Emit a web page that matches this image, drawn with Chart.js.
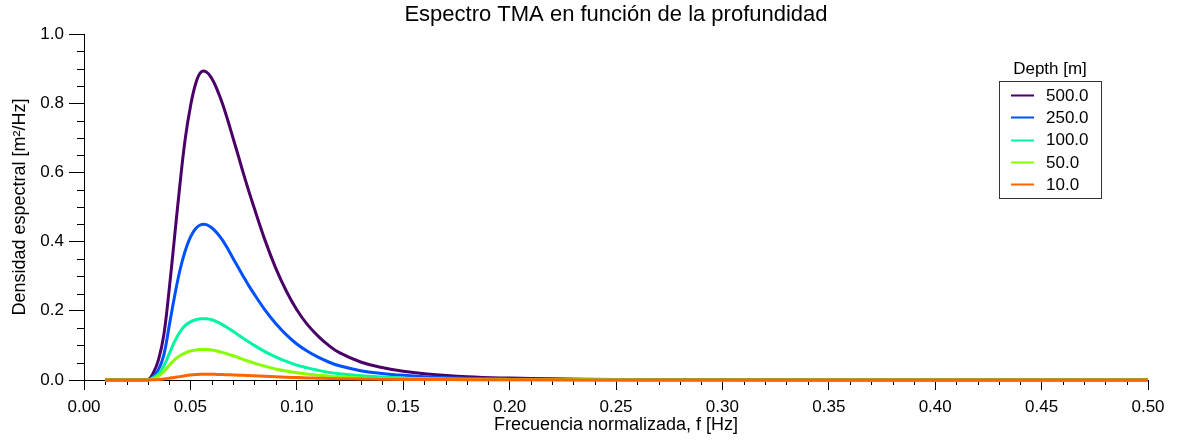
<!DOCTYPE html>
<html>
<head>
<meta charset="utf-8">
<script src="https://cdn.jsdelivr.net/npm/chart.js@4.4.1/dist/chart.umd.min.js"></script>
<style>
  html, body { margin: 0; padding: 0; background: #fff; }
  #wrap { width: 1181px; height: 440px; }
</style>
</head>
<body>
<div id="wrap"><canvas id="c" width="1181" height="440"></canvas></div>
<script>
// Normalised frequency samples [Hz]
const freqHz = [0.010, 0.020, 0.025,
                0.030, 0.0325, 0.035, 0.0375, 0.040, 0.0425, 0.045, 0.0475, 0.050, 0.0525, 0.055,
                0.0575, 0.060, 0.0625, 0.065, 0.0675, 0.070, 0.0725, 0.075, 0.0775, 0.080,
                0.085, 0.090, 0.095, 0.100, 0.105, 0.110, 0.115, 0.120,
                0.130, 0.140, 0.150, 0.160, 0.180, 0.200, 0.220, 0.250, 0.300, 0.350, 0.400, 0.450, 0.500];

// Spectral density [m²/Hz] for each water depth
const s500 = [0, 0, 0,
              0, 0.02, 0.058, 0.13, 0.26, 0.41, 0.56, 0.694, 0.79, 0.857, 0.89,
              0.89, 0.872, 0.84, 0.80, 0.752, 0.70, 0.648, 0.595, 0.545, 0.497,
              0.405, 0.325, 0.258, 0.203, 0.16, 0.127, 0.10, 0.079,
              0.052, 0.036, 0.025, 0.018, 0.0095, 0.0055, 0.0033, 0.0017, 0.0007, 0.0003, 0.00015, 0.00008, 0.00005];
const s250 = [0, 0, 0,
              0, 0.01, 0.03, 0.072, 0.155, 0.24, 0.315, 0.372, 0.413, 0.438, 0.449,
              0.449, 0.44, 0.425, 0.405, 0.38, 0.352, 0.325, 0.298, 0.272, 0.248,
              0.203, 0.164, 0.131, 0.104, 0.083, 0.066, 0.052, 0.041,
              0.027, 0.019, 0.0135, 0.0097, 0.0052, 0.003, 0.0018, 0.0009, 0.0004, 0.0002, 0.0001, 0.00005, 0.00003];
const s100 = [0, 0, 0,
              0, 0.006, 0.017, 0.04, 0.075, 0.11, 0.138, 0.157, 0.168, 0.174, 0.177,
              0.177, 0.174, 0.168, 0.16, 0.151, 0.141, 0.13, 0.12, 0.11, 0.10,
              0.082, 0.067, 0.054, 0.043, 0.035, 0.028, 0.022, 0.018,
              0.012, 0.0085, 0.006, 0.0045, 0.0025, 0.0015, 0.0009, 0.0005, 0.0002, 0.0001, 0.00006, 0.00004, 0.00002];
const s50  = [0, 0, 0,
              0, 0.004, 0.011, 0.024, 0.042, 0.058, 0.07, 0.078, 0.084, 0.087, 0.088,
              0.088, 0.087, 0.084, 0.08, 0.075, 0.07, 0.065, 0.059, 0.054, 0.049,
              0.04, 0.032, 0.026, 0.021, 0.017, 0.0135, 0.011, 0.009,
              0.006, 0.0043, 0.0031, 0.0023, 0.0013, 0.0008, 0.0005, 0.0003, 0.0001, 0.00006, 0.00004, 0.00002, 0.00001];
const s10  = [0, 0, 0,
              0, 0.0004, 0.0012, 0.0028, 0.005, 0.0075, 0.0098, 0.0124, 0.0143, 0.0156, 0.0163,
              0.0165, 0.0164, 0.0161, 0.0157, 0.0152, 0.0146, 0.014, 0.0134, 0.0127, 0.012,
              0.0106, 0.0093, 0.0081, 0.007, 0.006, 0.0052, 0.0045, 0.0039,
              0.003, 0.0023, 0.0018, 0.0014, 0.0009, 0.0006, 0.0004, 0.00025, 0.00012, 0.00007, 0.00004, 0.00003, 0.00002];

const depthLabels = ['500.0', '250.0', '100.0', '50.0', '10.0'];
const seriesValues = [s500, s250, s100, s50, s10];
const seriesColors = ['#4b0068', '#0050ff', '#00f5a0', '#88ff00', '#ff6400'];

// Axis ticks
const xTickValues = [0.00, 0.05, 0.10, 0.15, 0.20, 0.25, 0.30, 0.35, 0.40, 0.45, 0.50];
const yTickValues = [0.0, 0.2, 0.4, 0.6, 0.8, 1.0];
const xMinorTicks = [];
for (let i = 0; i <= 50; i++) { if (i % 5 !== 0) xMinorTicks.push(i / 100); }
const yMinorTicks = [];
for (let i = 0; i <= 20; i++) { if (i % 4 !== 0) yMinorTicks.push(i / 20); }

const FONT = '"Liberation Sans", Arial, Helvetica, sans-serif';

const datasets = seriesValues.map((vals, k) => ({
  label: depthLabels[k],
  data: freqHz.map((f, i) => ({ x: f, y: vals[i] })),
  borderColor: seriesColors[k],
  backgroundColor: seriesColors[k],
  borderWidth: 3,
  pointRadius: 0,
  tension: 0.4,
  fill: false,
  clip: 6,
  order: seriesValues.length - k   // shallowest depth drawn on top
}));

// Minor tick marks on both axes
const minorTicks = {
  id: 'minorTicks',
  beforeDatasetsDraw(chart) {
    const ctx = chart.ctx;
    const xs = chart.scales.x, ys = chart.scales.y;
    ctx.save();
    ctx.strokeStyle = '#000';
    ctx.lineWidth = 1;
    ctx.beginPath();
    xMinorTicks.forEach(v => {
      const px = Math.round(xs.getPixelForValue(v)) + 0.5;
      ctx.moveTo(px, xs.top);
      ctx.lineTo(px, xs.top + 5);
    });
    yMinorTicks.forEach(v => {
      const py = Math.round(ys.getPixelForValue(v)) + 0.5;
      ctx.moveTo(ys.right - 7, py);
      ctx.lineTo(ys.right, py);
    });
    ctx.stroke();
    ctx.restore();
  }
};

// Boxed legend with a heading
const depthLegend = {
  id: 'depthLegend',
  afterDraw(chart) {
    const ctx = chart.ctx;
    ctx.save();
    ctx.font = '17px ' + FONT;
    ctx.fillStyle = '#000';
    ctx.textAlign = 'center';
    ctx.textBaseline = 'middle';
    ctx.fillText('Depth [m]', 1050, 69);
    ctx.strokeStyle = '#333';
    ctx.lineWidth = 1;
    ctx.strokeRect(999.5, 81.5, 102, 117);
    ctx.textAlign = 'left';
    chart.data.datasets.forEach((ds, i) => {
      const y = 95 + i * 22.3;
      ctx.strokeStyle = ds.borderColor;
      ctx.lineWidth = 2;
      ctx.beginPath();
      ctx.moveTo(1011, Math.round(y) + 0.5);
      ctx.lineTo(1034, Math.round(y) + 0.5);
      ctx.stroke();
      ctx.fillStyle = '#000';
      ctx.fillText(ds.label, 1046, y + 1);
    });
    ctx.restore();
  }
};

new Chart(document.getElementById('c').getContext('2d'), {
  type: 'line',
  data: { datasets },
  plugins: [minorTicks, depthLegend],
  options: {
    responsive: false,
    animation: false,
    events: [],
    layout: { padding: { left: 0, right: 33, top: 0, bottom: 0 } },
    plugins: {
      legend: { display: false },
      tooltip: { enabled: false },
      title: {
        display: true,
        fullSize: false,
        text: 'Espectro TMA en función de la profundidad',
        color: '#000',
        font: { family: FONT, size: 22, weight: 'normal' },
        padding: { top: 2, bottom: 5.6 }
      }
    },
    scales: {
      x: {
        type: 'linear',
        min: 0, max: 0.5,
        afterBuildTicks: s => { s.ticks = xTickValues.map(v => ({ value: v })); },
        afterFit: s => { s.height = 60; },
        grid: { drawOnChartArea: false, tickLength: 10, color: '#000' },
        border: { color: '#000', width: 1 },
        ticks: {
          autoSkip: false, maxRotation: 0, padding: 7,
          color: '#000', font: { family: FONT, size: 17 },
          callback: v => Number(v).toFixed(2)
        },
        title: {
          display: true, text: 'Frecuencia normalizada, f [Hz]',
          color: '#000', font: { family: FONT, size: 18 },
          padding: { top: 0, bottom: 4 }
        }
      },
      y: {
        min: 0, max: 1,
        afterBuildTicks: s => { s.ticks = yTickValues.map(v => ({ value: v })); },
        afterFit: s => { s.width = 84; },
        grid: { drawOnChartArea: false, tickLength: 15, color: '#000' },
        border: { color: '#000', width: 1 },
        ticks: {
          autoSkip: false, padding: 5,
          color: '#000', font: { family: FONT, size: 17 },
          callback: v => Number(v).toFixed(1)
        },
        title: {
          display: true, text: 'Densidad espectral [m²/Hz]',
          color: '#000', font: { family: FONT, size: 18 },
          padding: { top: 9, bottom: 0 }
        }
      }
    }
  }
});
</script>
</body>
</html>
